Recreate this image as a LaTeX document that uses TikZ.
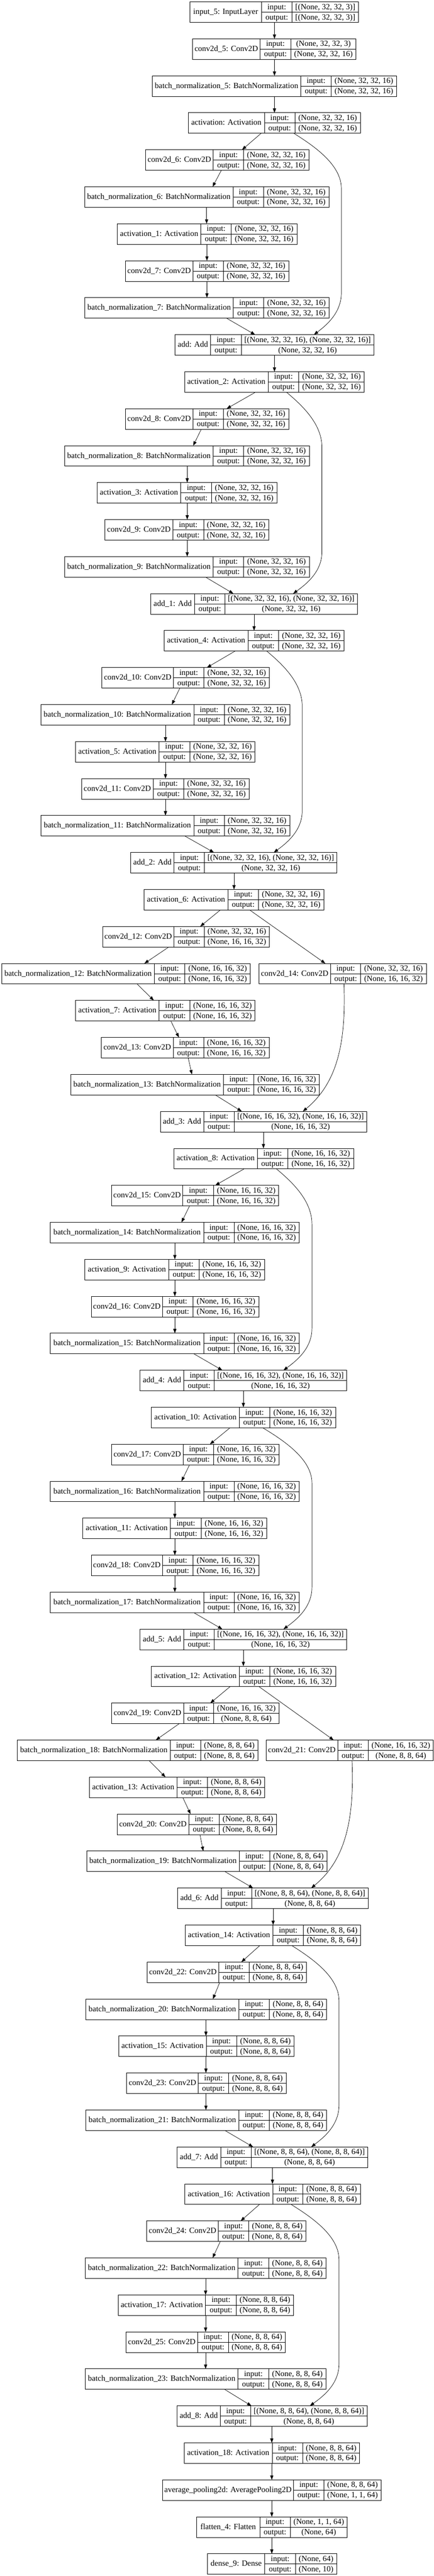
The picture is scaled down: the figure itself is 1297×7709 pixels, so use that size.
\documentclass[tikz,border=0pt]{standalone}
\usepackage{fontspec}
\setmainfont{Liberation Serif}
\usetikzlibrary{arrows.meta,calc}

\newcommand{\szA}{(None, 32, 32, 16)}
\newcommand{\szB}{(None, 16, 16, 32)}
\newcommand{\szC}{(None, 8, 8, 64)}

\newcommand{\layer}[9]{%
  \pgfmathsetmacro{\ytop}{5.5+110.68*#2}%
  \node[layerbox, minimum width={(#6-#3)*1pt}] (#1) at ({(#3+#6)/2},{\ytop+30.75}) {};
  \draw[cell] (#4,\ytop) -- (#4,\ytop+61.5);
  \draw[cell] (#5,\ytop) -- (#5,\ytop+61.5);
  \draw[cell] (#4,\ytop+30.75) -- (#6,\ytop+30.75);
  \node[celltext] (#1-name) at ({(#3+#4)/2},\ytop+37) {#7};
  \node[celltext] (#1-ik) at ({(#4+#5)/2},\ytop+22.4) {input:};
  \node[celltext] (#1-iv) at ({(#5+#6)/2},\ytop+22.4) {#8};
  \node[celltext] (#1-ok) at ({(#4+#5)/2},\ytop+53.1) {output:};
  \node[celltext] (#1-ov) at ({(#5+#6)/2},\ytop+53.1) {#9};
}
\newcommand{\layerlink}[4]{\draw[flowline] (#1.south-|#2,0) -- (#3.north-|#4,0);}
\newcommand{\bypasslink}[5]{%
  \pgfmathsetmacro{\bendout}{0.45*(#5-#2)}%
  \pgfmathsetmacro{\bendin}{0.45*(#5-#4)}%
  \draw[flowline] (#1.south-|#2,0) .. controls +(\bendout,40) and +(0,-70) .. ($(#1.south-|#5,0)+(0,165)$)
    -- ($(#3.north-|#5,0)+(0,-125)$) .. controls +(0,60) and +(\bendin,-28) .. (#3.north-|#4,0);}

\begin{document}
\begin{tikzpicture}[x=1pt,y=-1pt,
  layerbox/.style={draw, line width=1.4pt, inner sep=0pt, outer sep=0pt, minimum height=61.5pt},
  cell/.style={line width=1.4pt},
  celltext/.style={anchor=base, inner sep=0pt, font=\fontsize{23.9}{28}\selectfont},
  flowline/.style={line width=1.1pt, -{Triangle[length=13pt,width=9.5pt]}}]
  \fill[white] (0,0) rectangle (1297,7709);
  \useasboundingbox (0,0) rectangle (1297,7709);

  \layer{in5}{0}{568}{782}{874}{1072}{input\_5: InputLayer}{[(None, 32, 32, 3)]}{[(None, 32, 32, 3)]}
  \layer{cv5}{1}{576}{778}{870}{1065}{conv2d\_5: Conv2D}{(None, 32, 32, 3)}{\szA}
  \layer{bn5}{2}{455}{900}{991}{1186}{batch\_normalization\_5: BatchNormalization}{\szA}{\szA}
  \layer{ac0}{3}{563}{791}{882}{1078}{activation: Activation}{\szA}{\szA}
  \layer{cv6}{4}{435}{638}{729}{924}{conv2d\_6: Conv2D}{\szA}{\szA}
  \layer{bn6}{5}{253}{697}{788}{984}{batch\_normalization\_6: BatchNormalization}{\szA}{\szA}
  \layer{ac1}{6}{351}{601}{692}{888}{activation\_1: Activation}{\szA}{\szA}
  \layer{cv7}{7}{375}{577}{668}{864}{conv2d\_7: Conv2D}{\szA}{\szA}
  \layer{bn7}{8}{254}{698}{789}{985}{batch\_normalization\_7: BatchNormalization}{\szA}{\szA}
  \layer{ad0}{9}{524}{630}{722}{1118}{add: Add}{[\szA, \szA]}{\szA}
  \layer{ac2}{10}{552}{802}{894}{1089}{activation\_2: Activation}{\szA}{\szA}
  \layer{cv8}{11}{375}{577}{668}{864}{conv2d\_8: Conv2D}{\szA}{\szA}
  \layer{bn8}{12}{193}{638}{729}{925}{batch\_normalization\_8: BatchNormalization}{\szA}{\szA}
  \layer{ac3}{13}{290}{541}{633}{828}{activation\_3: Activation}{\szA}{\szA}
  \layer{cv9}{14}{314}{517}{609}{804}{conv2d\_9: Conv2D}{\szA}{\szA}
  \layer{bn9}{15}{193}{638}{729}{925}{batch\_normalization\_9: BatchNormalization}{\szA}{\szA}
  \layer{ad1}{16}{451}{582}{673}{1069}{add\_1: Add}{[\szA, \szA]}{\szA}
  \layer{ac4}{17}{491}{742}{833}{1029}{activation\_4: Activation}{\szA}{\szA}
  \layer{cv10}{18}{305}{519}{610}{806}{conv2d\_10: Conv2D}{\szA}{\szA}
  \layer{bn10}{19}{122}{580}{671}{867}{batch\_normalization\_10: BatchNormalization}{\szA}{\szA}
  \layer{ac5}{20}{226}{476}{568}{763}{activation\_5: Activation}{\szA}{\szA}
  \layer{cv11}{21}{244}{458}{550}{745}{conv2d\_11: Conv2D}{\szA}{\szA}
  \layer{bn11}{22}{122}{580}{671}{867}{batch\_normalization\_11: BatchNormalization}{\szA}{\szA}
  \layer{ad2}{23}{391}{521}{612}{1008}{add\_2: Add}{[\szA, \szA]}{\szA}
  \layer{ac6}{24}{431}{682}{773}{969}{activation\_6: Activation}{\szA}{\szA}
  \layer{cv12}{25}{307}{520}{611}{806}{conv2d\_12: Conv2D}{\szA}{\szB}
  \layer{bn12}{26}{5}{462}{553}{749}{batch\_normalization\_12: BatchNormalization}{\szB}{\szB}
  \layer{cv14}{26}{774}{989}{1079}{1275}{conv2d\_14: Conv2D}{\szA}{\szB}
  \layer{ac7}{27}{226}{476}{568}{763}{activation\_7: Activation}{\szB}{\szB}
  \layer{cv13}{28}{303}{518}{609}{805}{conv2d\_13: Conv2D}{\szB}{\szB}
  \layer{bn13}{29}{212}{668}{760}{955}{batch\_normalization\_13: BatchNormalization}{\szB}{\szB}
  \layer{ad3}{30}{480}{609}{701}{1097}{add\_3: Add}{[\szB, \szB]}{\szB}
  \layer{ac8}{31}{520}{770}{861}{1058}{activation\_8: Activation}{\szB}{\szB}
  \layer{cv15}{32}{333}{547}{639}{834}{conv2d\_15: Conv2D}{\szB}{\szB}
  \layer{bn14}{33}{151}{609}{700}{895}{batch\_normalization\_14: BatchNormalization}{\szB}{\szB}
  \layer{ac9}{34}{254}{505}{596}{791}{activation\_9: Activation}{\szB}{\szB}
  \layer{cv16}{35}{273}{486}{578}{774}{conv2d\_16: Conv2D}{\szB}{\szB}
  \layer{bn15}{36}{151}{609}{700}{895}{batch\_normalization\_15: BatchNormalization}{\szB}{\szB}
  \layer{ad4}{37}{419}{550}{641}{1037}{add\_4: Add}{[\szB, \szB]}{\szB}
  \layer{ac10}{38}{453}{716}{807}{1004}{activation\_10: Activation}{\szB}{\szB}
  \layer{cv17}{39}{333}{548}{639}{835}{conv2d\_17: Conv2D}{\szB}{\szB}
  \layer{bn16}{40}{151}{609}{700}{895}{batch\_normalization\_16: BatchNormalization}{\szB}{\szB}
  \layer{ac11}{41}{248}{510}{602}{798}{activation\_11: Activation}{\szB}{\szB}
  \layer{cv18}{42}{273}{486}{578}{774}{conv2d\_18: Conv2D}{\szB}{\szB}
  \layer{bn17}{43}{151}{609}{700}{895}{batch\_normalization\_17: BatchNormalization}{\szB}{\szB}
  \layer{ad5}{44}{419}{550}{641}{1037}{add\_5: Add}{[\szB, \szB]}{\szB}
  \layer{ac12}{45}{453}{716}{807}{1004}{activation\_12: Activation}{\szB}{\szB}
  \layer{cv19}{46}{333}{549}{639}{835}{conv2d\_19: Conv2D}{\szB}{\szC}
  \layer{bn18}{47}{52}{509}{600}{772}{batch\_normalization\_18: BatchNormalization}{\szC}{\szC}
  \layer{cv21}{47}{796}{1010}{1102}{1296}{conv2d\_21: Conv2D}{\szB}{\szC}
  \layer{ac13}{48}{267}{530}{621}{792}{activation\_13: Activation}{\szC}{\szC}
  \layer{cv20}{49}{350}{565}{656}{827}{conv2d\_20: Conv2D}{\szC}{\szC}
  \layer{bn19}{50}{259}{716}{807}{978}{batch\_normalization\_19: BatchNormalization}{\szC}{\szC}
  \layer{ad6}{51}{531}{662}{753}{1101}{add\_6: Add}{[\szC, \szC]}{\szC}
  \layer{ac14}{52}{554}{816}{908}{1079}{activation\_14: Activation}{\szC}{\szC}
  \layer{cv22}{53}{440}{654}{746}{917}{conv2d\_22: Conv2D}{\szC}{\szC}
  \layer{bn20}{54}{257}{714}{806}{977}{batch\_normalization\_20: BatchNormalization}{\szC}{\szC}
  \layer{ac15}{55}{355}{617}{708}{880}{activation\_15: Activation}{\szC}{\szC}
  \layer{cv23}{56}{379}{593}{684}{856}{conv2d\_23: Conv2D}{\szC}{\szC}
  \layer{bn21}{57}{257}{714}{806}{977}{batch\_normalization\_21: BatchNormalization}{\szC}{\szC}
  \layer{ad7}{58}{530}{660}{752}{1100}{add\_7: Add}{[\szC, \szC]}{\szC}
  \layer{ac16}{59}{553}{816}{906}{1078}{activation\_16: Activation}{\szC}{\szC}
  \layer{cv24}{60}{439}{653}{744}{915}{conv2d\_24: Conv2D}{\szC}{\szC}
  \layer{bn22}{61}{255}{712}{804}{975}{batch\_normalization\_22: BatchNormalization}{\szC}{\szC}
  \layer{ac17}{62}{353}{615}{707}{878}{activation\_17: Activation}{\szC}{\szC}
  \layer{cv25}{63}{377}{591}{683}{854}{conv2d\_25: Conv2D}{\szC}{\szC}
  \layer{bn23}{64}{255}{712}{804}{975}{batch\_normalization\_23: BatchNormalization}{\szC}{\szC}
  \layer{ad8}{65}{530}{659}{750}{1098}{add\_8: Add}{[\szC, \szC]}{\szC}
  \layer{ac18}{66}{551}{814}{905}{1076}{activation\_18: Activation}{\szC}{\szC}
  \layer{pool}{67}{486}{878}{969}{1140}{average\_pooling2d: AveragePooling2D}{\szC}{(None, 1, 1, 64)}
  \layer{flat}{68}{588}{777}{868}{1039}{flatten\_4: Flatten}{(None, 1, 1, 64)}{(None, 64)}
  \layer{dense}{69}{621}{792}{884}{1007}{dense\_9: Dense}{(None, 64)}{(None, 10)}

  \layerlink{in5}{821}{cv5}{821}
  \layerlink{cv5}{821}{bn5}{821}
  \layerlink{bn5}{821}{ac0}{821}
  \layerlink{ac0}{781}{cv6}{724}
  \bypasslink{ac0}{879}{ad0}{939}{1021}
  \layerlink{cv6}{662}{bn6}{636}
  \layerlink{bn6}{618}{ac1}{618}
  \layerlink{ac1}{619}{cv7}{619}
  \layerlink{cv7}{619}{bn7}{619}
  \layerlink{bn7}{678}{ad0}{763}
  \layerlink{ad0}{821}{ac2}{821}
  \layerlink{ac2}{764}{cv8}{678}
  \bypasslink{ac2}{857}{ad1}{877}{963}
  \layerlink{cv8}{602}{bn8}{578}
  \layerlink{bn8}{560}{ac3}{560}
  \layerlink{ac3}{560}{cv9}{560}
  \layerlink{cv9}{560}{bn9}{560}
  \layerlink{bn9}{615}{ad1}{698}
  \layerlink{ad1}{760}{ac4}{760}
  \layerlink{ac4}{703}{cv10}{619}
  \bypasslink{ac4}{798}{ad2}{819}{904}
  \layerlink{cv10}{538}{bn10}{514}
  \layerlink{bn10}{495}{ac5}{495}
  \layerlink{ac5}{495}{cv11}{495}
  \layerlink{cv11}{495}{bn11}{495}
  \layerlink{bn11}{553}{ad2}{640}
  \layerlink{ad2}{700}{ac6}{700}
  \layerlink{ac6}{659}{cv12}{599}
  \layerlink{ac6}{747}{cv14}{973}
  \layerlink{cv12}{505}{bn12}{432}
  \layerlink{bn12}{410}{ac7}{460}
  \layerlink{ac7}{511}{cv13}{535}
  \layerlink{cv13}{563}{bn13}{574}
  \layerlink{bn13}{644}{ad3}{723}
  \draw[flowline] (cv14.south-|1029,0) .. controls +(6,175) and +(104,-86) .. (ad3.north-|906,0);
  \layerlink{ad3}{788}{ac8}{788}
  \layerlink{ac8}{730}{cv15}{644}
  \bypasslink{ac8}{827}{ad4}{848}{933}
  \layerlink{cv15}{567}{bn14}{543}
  \layerlink{bn14}{523}{ac9}{523}
  \layerlink{ac9}{523}{cv16}{523}
  \layerlink{cv16}{523}{bn15}{523}
  \layerlink{bn15}{580}{ad4}{665}
  \layerlink{ad4}{728}{ac10}{728}
  \layerlink{ac10}{688}{cv17}{628}
  \bypasslink{ac10}{786}{ad5}{848}{933}
  \layerlink{cv17}{567}{bn16}{543}
  \layerlink{bn16}{523}{ac11}{523}
  \layerlink{ac11}{523}{cv18}{523}
  \layerlink{cv18}{523}{bn17}{523}
  \layerlink{bn17}{580}{ad5}{665}
  \layerlink{ad5}{728}{ac12}{728}
  \layerlink{ac12}{688}{cv19}{629}
  \layerlink{ac12}{775}{cv21}{998}
  \layerlink{cv19}{536}{bn18}{466}
  \layerlink{bn18}{446}{ac13}{495}
  \layerlink{ac13}{547}{cv20}{570}
  \layerlink{cv20}{598}{bn19}{608}
  \layerlink{bn19}{673}{ad6}{757}
  \draw[flowline] (cv21.south-|1053,0) .. controls +(7,172) and +(104,-85) .. (ad6.north-|931,0);
  \layerlink{ad6}{817}{ac14}{817}
  \layerlink{ac14}{777}{cv22}{722}
  \bypasslink{ac14}{873}{ad7}{931}{1014}
  \layerlink{cv22}{657}{bn20}{637}
  \layerlink{bn20}{616}{ac15}{616}
  \layerlink{ac15}{616}{cv23}{616}
  \layerlink{cv23}{616}{bn21}{616}
  \layerlink{bn21}{673}{ad7}{757}
  \layerlink{ad7}{815}{ac16}{815}
  \layerlink{ac16}{776}{cv24}{720}
  \bypasslink{ac16}{871}{ad8}{927}{1014}
  \layerlink{cv24}{659}{bn22}{636}
  \layerlink{bn22}{615}{ac17}{615}
  \layerlink{ac17}{615}{cv25}{615}
  \layerlink{cv25}{615}{bn23}{615}
  \layerlink{bn23}{672}{ad8}{752}
  \layerlink{ad8}{813}{ac18}{813}
  \layerlink{ac18}{813}{pool}{813}
  \layerlink{pool}{813}{flat}{813}
  \layerlink{flat}{813}{dense}{813}
\end{tikzpicture}
\end{document}
